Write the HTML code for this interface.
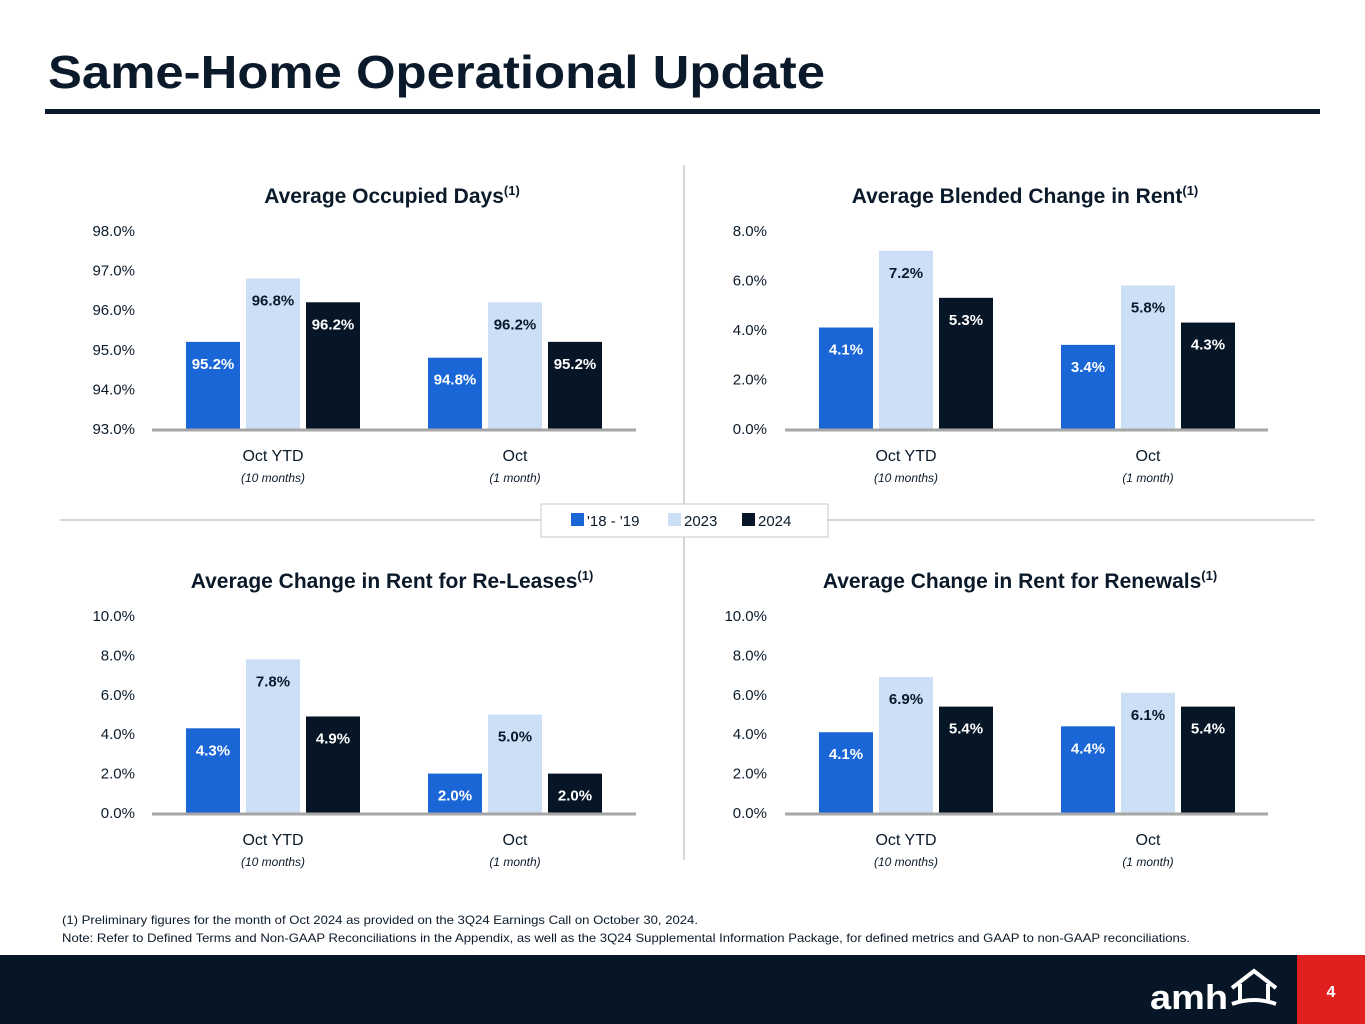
<!DOCTYPE html>
<html><head><meta charset="utf-8">
<style>
html,body{margin:0;padding:0;background:#fff;}
body{width:1365px;height:1024px;position:relative;overflow:hidden;font-family:"Liberation Sans",sans-serif;}
svg{position:absolute;left:0;top:0;}
</style></head>
<body>
<svg id="s" width="1365" height="1024" viewBox="0 0 1365 1024">
<text x="48" y="88" font-size="46" font-weight="bold" fill="#0b1a2a" textLength="777" lengthAdjust="spacingAndGlyphs">Same-Home Operational Update</text>
<rect x="45" y="109" width="1275" height="5" fill="#0b1a2a"/>
<line x1="684" y1="165" x2="684" y2="860" stroke="#c8c8c8" stroke-width="1.5"/>
<line x1="60" y1="520" x2="541" y2="520" stroke="#c8c8c8" stroke-width="1.5"/>
<line x1="828" y1="520" x2="1315" y2="520" stroke="#c8c8c8" stroke-width="1.5"/>
<g>
<rect x="541" y="504" width="287" height="33" fill="#fff" stroke="#c8c8c8"/>
<rect x="571" y="513" width="13" height="13" fill="#1a66d6"/>
<text x="587" y="526" font-size="15" fill="#0b1a2a">'18 - '19</text>
<rect x="668" y="513" width="13" height="13" fill="#cddff7"/>
<text x="684" y="526" font-size="15" fill="#0b1a2a">2023</text>
<rect x="742" y="513" width="13" height="13" fill="#061626"/>
<text x="758" y="526" font-size="15" fill="#0b1a2a">2024</text>
</g>
<text x="62" y="924" font-size="12" fill="#0b1a2a" textLength="636" lengthAdjust="spacingAndGlyphs">(1) Preliminary figures for the month of Oct 2024 as provided on the 3Q24 Earnings Call on October 30, 2024.</text>
<text x="62" y="942" font-size="12" fill="#0b1a2a" textLength="1128" lengthAdjust="spacingAndGlyphs">Note: Refer to Defined Terms and Non-GAAP Reconciliations in the Appendix, as well as the 3Q24 Supplemental Information Package, for defined metrics and GAAP to non-GAAP reconciliations.</text>
<rect x="0" y="955" width="1365" height="69" fill="#061626"/>
<rect x="1297" y="955" width="68" height="69" fill="#e0201f"/>
<text x="1331" y="997" font-size="16" font-weight="bold" fill="#fff" text-anchor="middle">4</text>
<text x="1150" y="1009" font-size="34" font-weight="bold" fill="#fff" textLength="78" lengthAdjust="spacingAndGlyphs">amh</text>
<path d="M1232 988 L1254 971 L1276 988 M1240 984 L1240 1002 M1268 984 L1268 1002 M1232 1004 Q1254 996 1276 1004" stroke="#fff" stroke-width="4" fill="none"/>
<g id="charts"></g>
</svg>
<script>
const categories = ["Oct YTD", "Oct"];
const subLabels = ["(10 months)", "(1 month)"];
const seriesNames = ["'18 - '19", "2023", "2024"];
const occBase = [95.2, 94.8];
const occ2023 = [96.8, 96.2];
const occ2024 = [96.2, 95.2];
const blendBase = [4.1, 3.4];
const blend2023 = [7.2, 5.8];
const blend2024 = [5.3, 4.3];
const releaseBase = [4.3, 2.0];
const release2023 = [7.8, 5.0];
const release2024 = [4.9, 2.0];
const renewBase = [4.1, 4.4];
const renew2023 = [6.9, 6.1];
const renew2024 = [5.4, 5.4];
const ticksOcc = [93, 94, 95, 96, 97, 98];
const ticksBlend = [0, 2, 4, 6, 8];
const ticksTen = [0, 2, 4, 6, 8, 10];

const NS = "http://www.w3.org/2000/svg";
const root = document.getElementById('charts');
const colors = ["#1a66d6", "#cddff7", "#061626"];
const textColors = ["#fff", "#0b1a2a", "#fff"];
function mk(tag, attrs, parent){const e=document.createElementNS(NS,tag);for(const k in attrs)e.setAttribute(k,attrs[k]);(parent||root).appendChild(e);return e;}

function chart(cfg){
  const g = mk('g', {});
  
  
  const t = mk('text', {x: cfg.titleX, y: cfg.titleY, 'font-size': 21, 'font-weight':'bold', fill:'#0b1a2a', 'text-anchor':'middle'}, g);
  t.textContent = cfg.title;
  const sup = mk('tspan', {'font-size': 13, dy: -8}, t);
  sup.textContent = '(1)';
  
  
  const min = cfg.ticks[0], max = cfg.ticks[cfg.ticks.length-1];
  const y = v => cfg.axisY - (v - min) / (max - min) * (cfg.axisY - cfg.topY);
  cfg.ticks.forEach(tv => {
    const tl = mk('text', {x: cfg.tickX, y: y(tv) + 5, 'font-size': 15, fill:'#0b1a2a', 'text-anchor':'end'}, g);
    tl.textContent = tv.toFixed(1) + '%';
    
    
  });
  const series = cfg.series;
  categories.forEach((c, ci) => {
    const cx = cfg.centers[ci];
    series.forEach((arr, si) => {
      const x = cx - 87 + si * 60;
      const top = y(arr[ci]);
      const r = mk('rect', {x: x, y: top, width: 54, height: cfg.axisY - top, fill: colors[si]}, g);
      
      
      const lb = mk('text', {x: x + 27, y: top + 27, 'font-size': 15, 'font-weight':'bold', fill: textColors[si], 'text-anchor':'middle'}, g);
      lb.textContent = arr[ci].toFixed(1) + '%';
      
      
    });
    const cl = mk('text', {x: cx, y: cfg.axisY + 32, 'font-size': 16, fill:'#0b1a2a', 'text-anchor':'middle'}, g);
    cl.textContent = c;
    
    
    const sl = mk('text', {x: cx, y: cfg.axisY + 53, 'font-size': 12, 'font-style':'italic', fill:'#0b1a2a', 'text-anchor':'middle'}, g);
    sl.textContent = subLabels[ci];
    
    
  });
  const ax = mk('line', {x1: cfg.axisX1, x2: cfg.axisX2, y1: cfg.axisY + 1, y2: cfg.axisY + 1, stroke:'#a6a6a6', 'stroke-width': 3}, g);
  
  
}
chart({name:'occupied-days-chart', title:'Average Occupied Days', titleX:392, titleY:203, ticks:ticksOcc, axisY:429, topY:231, tickX:135, centers:[273,515], axisX1:152, axisX2:636, series:[occBase,occ2023,occ2024]});
chart({name:'blended-rent-chart', title:'Average Blended Change in Rent', titleX:1025, titleY:203, ticks:ticksBlend, axisY:429, topY:231, tickX:767, centers:[906,1148], axisX1:785, axisX2:1268, series:[blendBase,blend2023,blend2024]});
chart({name:'re-leases-chart', title:'Average Change in Rent for Re-Leases', titleX:392, titleY:588, ticks:ticksTen, axisY:813, topY:616, tickX:135, centers:[273,515], axisX1:152, axisX2:636, series:[releaseBase,release2023,release2024]});
chart({name:'renewals-chart', title:'Average Change in Rent for Renewals', titleX:1020, titleY:588, ticks:ticksTen, axisY:813, topY:616, tickX:767, centers:[906,1148], axisX1:785, axisX2:1268, series:[renewBase,renew2023,renew2024]});
</script>
</body></html>
